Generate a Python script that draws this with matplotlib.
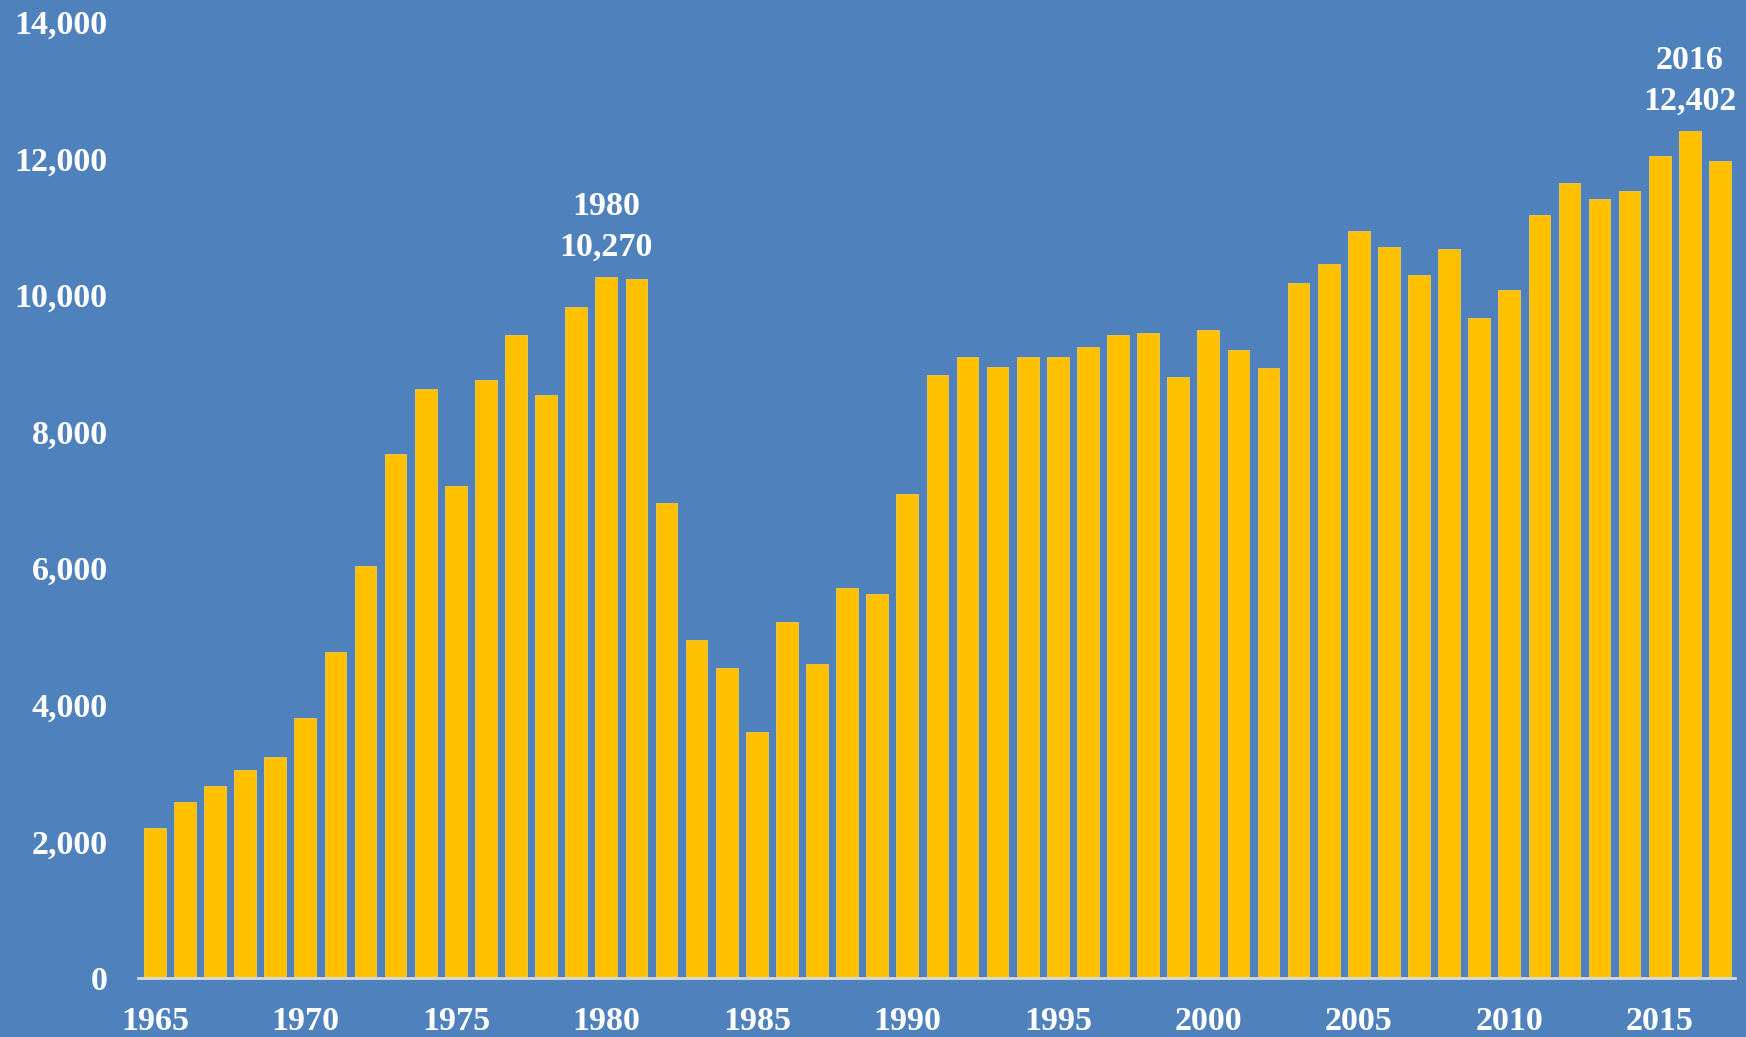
#!/usr/bin/env python3
"""Yearly bar chart, 1965-2017, with the 1980 and 2016 peaks labelled."""

import matplotlib

matplotlib.use('Agg')
import matplotlib.pyplot as plt
from matplotlib.ticker import FuncFormatter

years = list(range(1965, 2018))
values = [
    2200, 2580, 2810, 3050, 3230, 3800, 4770, 6030, 7670, 8620,
    7200, 8760, 9410, 8530, 9830, 10270, 10240, 6950, 4950, 4540,
    3600, 5210, 4590, 5710, 5620, 7090, 8830, 9090, 8950, 9090,
    9090, 9240, 9410, 9450, 8800, 9490, 9190, 8930, 10170, 10460,
    10930, 10700, 10290, 10670, 9660, 10080, 11170, 11640, 11410, 11520,
    12030, 12402, 11960,
]
highlight_years = [1980, 2016]
tick_years = list(range(1965, 2016, 5))
y_ticks = list(range(0, 14001, 2000))

BG = '#4F81BD'
BAR = '#FFC000'
AXIS = '#D9D9D9'
FS = 24.5


def main():
    plt.rcParams['font.family'] = ['Liberation Serif', 'DejaVu Serif']
    plt.rcParams['font.weight'] = 'bold'

    fig = plt.figure(figsize=(17.46, 10.37), dpi=100, facecolor=BG)
    ax = fig.add_axes([0.0792, 0.0569, 0.9145, 0.9221])
    ax.set_facecolor(BG)

    x = list(range(len(years)))
    ax.bar(x, values, width=0.72, color=BAR, edgecolor='#F5C84A',
           linewidth=0.6)

    for yr in highlight_years:
        i = years.index(yr)
        ax.annotate(f'{yr}\n{values[i]:,}', xy=(i, values[i]),
                    xytext=(0, 10), textcoords='offset points',
                    ha='center', va='bottom', color='white', fontsize=FS,
                    fontweight='bold', linespacing=1.4)

    ax.set_xlim(-0.55, len(years) - 0.5)
    ax.set_ylim(0, 14000)
    ax.set_xticks([years.index(y) for y in tick_years])
    ax.set_xticklabels([str(y) for y in tick_years])
    ax.set_yticks(y_ticks)
    ax.yaxis.set_major_formatter(FuncFormatter(lambda v, p: f'{int(v):,}'))
    ax.tick_params(axis='both', length=0, colors='white', labelsize=FS)
    ax.tick_params(axis='y', pad=22)
    ax.tick_params(axis='x', pad=20)

    for side in ('top', 'right', 'left'):
        ax.spines[side].set_visible(False)
    ax.spines['bottom'].set_color(AXIS)
    ax.spines['bottom'].set_linewidth(2)

    fig.savefig('out.png', facecolor=BG)


if __name__ == '__main__':
    main()
